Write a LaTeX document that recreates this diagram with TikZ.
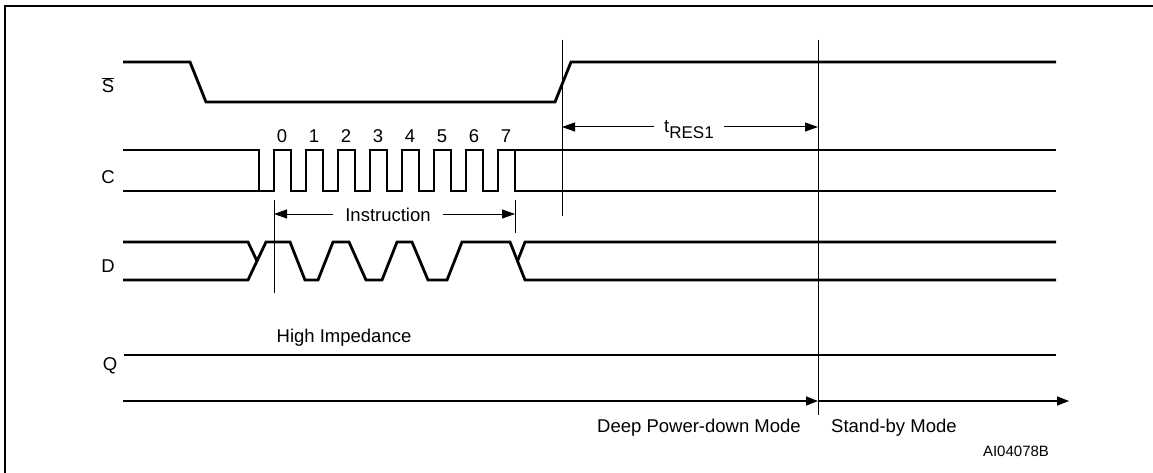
\documentclass[tikz,border=0pt]{standalone}
\usepackage{fontspec}
\setmainfont{Liberation Sans}
\usetikzlibrary{arrows.meta}
\begin{document}
\begin{tikzpicture}[x=1pt,y=-1pt,
  sig/.style={line width=2.8pt,line join=miter},
  thin/.style={line width=1pt},
  dimarrow/.style={line width=1pt,{Triangle[length=13pt,width=9pt]}-{Triangle[length=13pt,width=9pt]}},
  axis/.style={line width=1.4pt,-{Triangle[length=12pt,width=9pt]}},
  lbl/.style={font=\fontsize{18.5}{22}\selectfont,inner sep=0pt,anchor=base},
  small/.style={font=\fontsize{15}{18}\selectfont,inner sep=0pt,anchor=base}]
\useasboundingbox (0,0) rectangle (1153,473);
% frame
\draw[line width=2pt] (5,474) -- (5,6) -- (1154,6);
% signal labels
\node[lbl] (lS) at (108,93) {$\overline{\mbox{S}}$};
\node[lbl] (lC) at (108,183) {C};
\node[lbl] (lD) at (108,272) {D};
\node[lbl] (lQ) at (110,370) {Q};
% S
\draw[sig] (123,62) -- (190,62) -- (206,102) -- (555,102) -- (571,62) -- (1056,62);
% C
\draw[sig] (123,150) -- (259,150) -- (259,191);
\draw[sig] (123,191) -- (274,191)
  \foreach \k in {0,...,6} { -- ({274+32*\k},191) -- ({274+32*\k},150) -- ({291+32*\k},150) -- ({291+32*\k},191) }
  -- (498,191) -- (498,150) -- (515,150) -- (515,191) -- (1056,191);
\draw[sig] (515,150) -- (1056,150);
% clock numbers
\foreach \k in {0,...,7} { \node[lbl] (n\k) at ({282+32*\k},143) {\k}; }
% D
\draw[sig] (123,280) -- (248,280) -- (266,242) -- (290,242) -- (305,280) -- (318,280)
  -- (333,242) -- (349,242) -- (366,280) -- (382,280) -- (397,242) -- (412,242)
  -- (428,280) -- (447,280) -- (462,242) -- (510,242) -- (525,280) -- (1056,280);
\draw[sig] (123,242) -- (248,242) -- (257,261);
\draw[sig] (517.5,261) -- (525,242) -- (1056,242);
% Q
\draw[sig] (124,355) -- (1056,355);
\node[lbl] (hiz) at (344,342) {High Impedance};
% vertical markers
\coordinate (v1t) at (562,40); \coordinate (v1b) at (562,216);
\coordinate (v2t) at (818,40); \coordinate (v2b) at (818,415);
\coordinate (v3t) at (274,200); \coordinate (v3b) at (274,293);
\coordinate (v4t) at (515,200); \coordinate (v4b) at (515,233);
\draw[thin] (v1t) -- (v1b);
\draw[thin] (v2t) -- (v2b);
\draw[thin] (v3t) -- (v3b);
\draw[thin] (v4t) -- (v4b);
% tRES1
\coordinate (r1) at (562,127); \coordinate (r2) at (818,127);
\draw[dimarrow] (r1) -- (r2);
\node[lbl,fill=white,inner xsep=10pt,inner ysep=3pt] (tres) at (689,133) {t\raisebox{-6pt}{\fontsize{17}{20}\selectfont RES1}};
% Instruction
\coordinate (i1) at (274,214); \coordinate (i2) at (515,214);
\draw[dimarrow] (i1) -- (i2);
\node[lbl,fill=white,inner xsep=12pt,inner ysep=3pt] (instr) at (388,221) {Instruction};
% mode axis
\coordinate (a0) at (123,401); \coordinate (a1) at (818,401); \coordinate (a2) at (1069,401);
\draw[axis] (a0) -- (a1);
\draw[axis] (a1) -- (a2);
\node[lbl,anchor=base east] (dpd) at (801,432) {Deep Power-down Mode};
\node[lbl,anchor=base west] (sby) at (831,432) {Stand-by Mode};
\node[small] (ai) at (1016,456) {AI04078B};
\end{tikzpicture}
\end{document}
